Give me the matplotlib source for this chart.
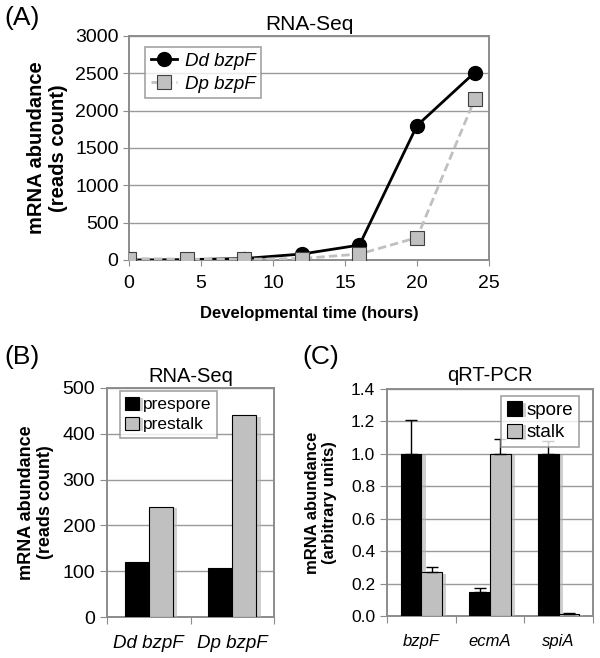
import matplotlib
matplotlib.use("Agg")
import matplotlib.pyplot as plt
import matplotlib.patheffects as pe
import matplotlib.image as mpimg
import numpy as np

plt.rcParams['font.family'] = ['Liberation Sans', 'DejaVu Sans']

# Panel A data
hours = [0, 4, 8, 12, 16, 20, 24]
dd_bzpF = [0, 5, 20, 80, 200, 1800, 2510]
dp_bzpF = [20, 10, 10, 20, 80, 300, 2150]

# Panel B data
b_categories = ['Dd bzpF', 'Dp bzpF']
prespore = [120, 108]
prestalk = [240, 440]

# Panel C data
c_categories = ['bzpF', 'ecmA', 'spiA']
spore = [1.0, 0.15, 1.0]
spore_err = [0.21, 0.02, 0.08]
stalk = [0.27, 1.0, 0.015]
stalk_err = [0.03, 0.09, 0.005]

W, H = 600, 658
fig = plt.figure(figsize=(6, 6.58), dpi=100, facecolor='white')

def ax_at(l, t, r, b):
    return fig.add_axes([l / W, 1 - b / H, (r - l) / W, (b - t) / H])

frame_col = '#8c8c8c'
grid_col = '#9a9a9a'

def style(ax):
    for s in ax.spines.values():
        s.set_color(frame_col)
        s.set_linewidth(1.4)
    ax.set_axisbelow(True)

shadow = [pe.SimplePatchShadow(offset=(3, -1), shadow_rgbFace='#b0b0b0', alpha=0.6), pe.Normal()]

# ---------- Panel A ----------
axA = ax_at(129, 36, 489, 260)
style(axA)
axA.plot(hours, dd_bzpF, color='black', lw=2, marker='o', ms=10, mfc='black', mec='black',
         label='Dd bzpF', zorder=3)
axA.plot(hours, dp_bzpF, color='#c0c0c0', lw=2, ls='--', dashes=(3, 1.5), marker='s', ms=10,
         mfc='#c0c0c0', mec='#404040', mew=0.8, label='Dp bzpF', zorder=4)
axA.set_xlim(0, 25)
axA.set_ylim(0, 3000)
axA.set_xticks([0, 5, 10, 15, 20, 25])
axA.set_yticks(range(0, 3001, 500))
axA.tick_params(labelsize=14, length=4, color=frame_col, direction='out')
axA.tick_params(axis='x', pad=7)
axA.set_xlabel('Developmental time (hours)', fontsize=12, fontweight='bold', labelpad=10)
axA.set_ylabel('mRNA abundance\n(reads count)', fontsize=14.5, fontweight='bold', labelpad=5)
axA.set_title('RNA-Seq', fontsize=15, pad=4)
legA = axA.legend(loc='upper left', frameon=True, fancybox=False,
                  edgecolor=frame_col, handlelength=1.4, borderpad=0.3, handletextpad=0.4,
                  labelspacing=0.3, bbox_to_anchor=(0.045, 0.95), borderaxespad=0,
                  prop={'style': 'italic', 'size': 13.5})
legA.get_frame().set_linewidth(1.2)
axA.grid(axis='y', color=grid_col, linewidth=1.0)

# ---------- Panel B ----------
axB = ax_at(107, 388, 274, 617)
style(axB)
xb = np.arange(len(b_categories))
wb = 0.29
bars1 = axB.bar(xb - wb / 2, prespore, wb, color='black', edgecolor='black', lw=0.8, label='prespore', zorder=3)
bars2 = axB.bar(xb + wb / 2, prestalk, wb, color='#c0c0c0', edgecolor='black', lw=0.8, label='prestalk', zorder=3)
for b in list(bars1) + list(bars2):
    b.set_path_effects(shadow)
axB.set_xlim(-0.5, 1.5)
axB.set_ylim(0, 500)
axB.set_yticks(range(0, 501, 100))
axB.set_xticks([-0.5, 0.5, 1.5])
axB.set_xticklabels([])
axB.set_xticks(xb, minor=True)
axB.set_xticklabels(b_categories, minor=True, fontstyle='italic', fontsize=13.5)
axB.tick_params(axis='x', which='minor', length=0, pad=13)
axB.tick_params(axis='x', which='major', length=5, color=frame_col, direction='out')
axB.tick_params(axis='y', labelsize=14, length=5, color=frame_col, direction='out')
axB.set_ylabel('mRNA abundance\n(reads count)', fontsize=13, fontweight='bold', labelpad=6)
axB.set_title('RNA-Seq', fontsize=14.5, pad=4)
legB = axB.legend(loc='upper left', fontsize=12.5, frameon=True, fancybox=False, edgecolor=frame_col,
                  handlelength=0.8, handleheight=0.8, handletextpad=0.25, borderpad=0.3,
                  labelspacing=0.25, bbox_to_anchor=(0.075, 0.985), borderaxespad=0)
legB.get_frame().set_linewidth(1.2)
axB.grid(axis='y', color=grid_col, linewidth=1.0)

# ---------- Panel C ----------
axC = ax_at(387, 389, 593, 616)
style(axC)
xc = np.arange(len(c_categories))
wc = 0.30
c1 = axC.bar(xc - wc / 2, spore, wc, color='black', edgecolor='black', lw=0.8, label='spore', zorder=3)
c2 = axC.bar(xc + wc / 2, stalk, wc, color='#c0c0c0', edgecolor='black', lw=0.8, label='stalk', zorder=3)
for b in list(c1) + list(c2):
    b.set_path_effects(shadow)
axC.errorbar(xc - wc / 2, spore, yerr=[np.zeros(3), spore_err], fmt='none', ecolor='black',
             elinewidth=1, capsize=4, capthick=1, zorder=4)
axC.errorbar(xc + wc / 2, stalk, yerr=[np.zeros(3), stalk_err], fmt='none', ecolor='black',
             elinewidth=1, capsize=4, capthick=1, zorder=4)
axC.set_xlim(-0.5, 2.5)
axC.set_ylim(0, 1.4)
yt = np.arange(0, 1.41, 0.2)
axC.set_yticks(yt)
axC.set_yticklabels(['%.1f' % v for v in yt])
axC.set_xticks([-0.5, 0.5, 1.5, 2.5])
axC.set_xticklabels([])
axC.set_xticks(xc, minor=True)
axC.set_xticklabels(c_categories, minor=True, fontstyle='italic', fontsize=12)
axC.tick_params(axis='x', which='minor', length=0, pad=13)
axC.tick_params(axis='x', which='major', length=5, color=frame_col, direction='out')
axC.tick_params(axis='y', labelsize=12.5, length=5, color=frame_col, direction='out')
axC.set_ylabel('mRNA abundance\n(arbitrary units)', fontsize=12, fontweight='bold', labelpad=10)
axC.set_title('qRT-PCR', fontsize=14.5, pad=6)
legC = axC.legend(loc='upper right', fontsize=13.5, frameon=True, fancybox=False, edgecolor=frame_col,
                  handlelength=0.8, handleheight=0.8, handletextpad=0.25, borderpad=0.3,
                  labelspacing=0.25, bbox_to_anchor=(0.93, 0.97), borderaxespad=0)
legC.get_frame().set_linewidth(1.2)
axC.grid(axis='y', color=grid_col, linewidth=1.0)

# panel letters
fig.text(4 / W, 1 - 18 / H, '(A)', fontsize=19, va='center', ha='left')
fig.text(4 / W, 1 - 357 / H, '(B)', fontsize=19, va='center', ha='left')
fig.text(302 / W, 1 - 357 / H, '(C)', fontsize=19, va='center', ha='left')

fig.savefig('out.png', dpi=100, facecolor='white')

# ---- make sure the horizontal gridlines really appear; fall back if not ----
checks = [(axA, 1500, 0.30), (axB, 300, 0.45), (axC, 1.2, 0.45)]

def grids_ok():
    img = mpimg.imread('out.png')
    ok = True
    for ax, yv, fx in checks:
        x0, x1 = ax.get_xlim()
        xd, yd = ax.transData.transform((x0 + fx * (x1 - x0), yv))
        row = int(round(img.shape[0] - yd))
        col = int(xd)
        band = img[max(row - 3, 0):row + 4, col, :3]
        if band.mean(axis=1).min() > 0.85:
            ok = False
    return ok

if not grids_ok():
    for ax in (axA, axB, axC):
        lo, hi = ax.get_ylim()
        x0, x1 = ax.get_xlim()
        ys = [y for y in ax.get_yticks() if lo < y < hi]
        ax.hlines(ys, x0, x1, colors=grid_col, linewidth=1.0, zorder=2.6, clip_on=False)
        ax.set_xlim(x0, x1)
    fig.savefig('out.png', dpi=100, facecolor='white')

if not grids_ok():
    for ax in (axA, axB, axC):
        ax.patch.set_visible(False)
        ax.set_zorder(2)
        bg = fig.add_axes(ax.get_position(), zorder=1)
        bg.set_xlim(ax.get_xlim())
        bg.set_ylim(ax.get_ylim())
        lo, hi = ax.get_ylim()
        ys = [y for y in ax.get_yticks() if lo < y < hi]
        bg.hlines(ys, *ax.get_xlim(), colors=grid_col, linewidth=1.0)
        bg.set_axis_off()
    fig.savefig('out.png', dpi=100, facecolor='white')
